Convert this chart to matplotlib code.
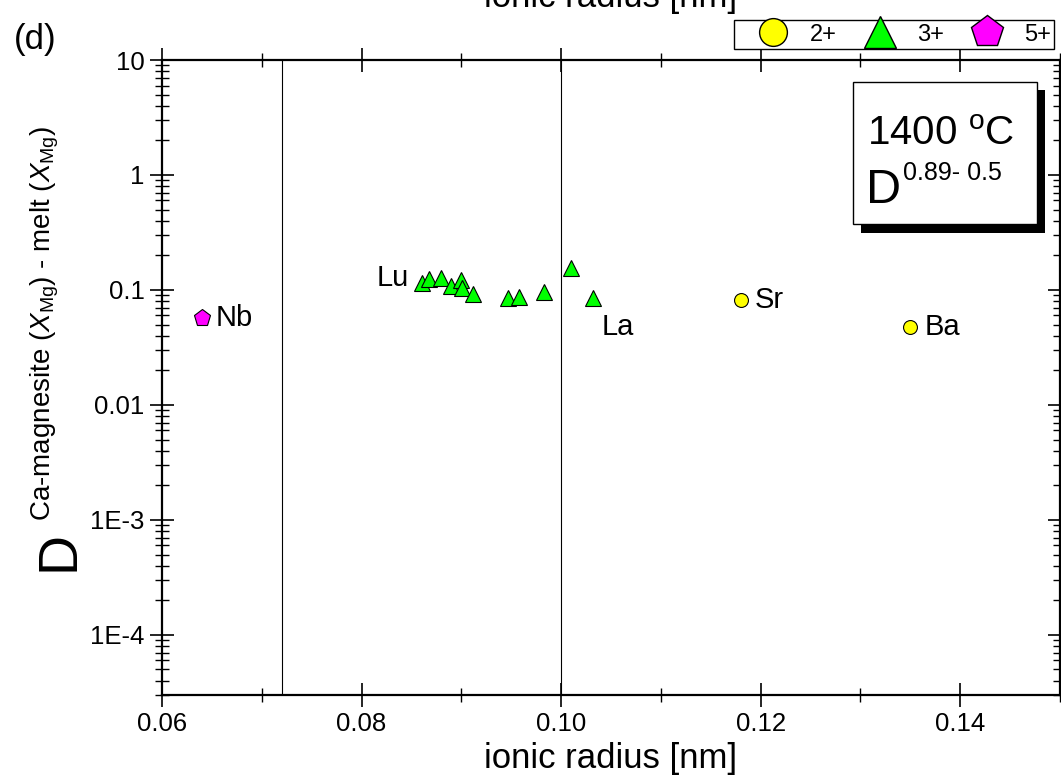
import matplotlib
matplotlib.use('Agg')
import matplotlib.pyplot as plt
from matplotlib.lines import Line2D
from matplotlib.patches import Rectangle
from matplotlib import font_manager

# ---------------- data ----------------
ree_elements = ['Lu', 'Yb', 'Tm', 'Er', 'Y', 'Ho', 'Dy', 'Eu', 'Sm', 'Nd', 'Ce', 'La']
ree_radius = [0.0861, 0.0868, 0.0880, 0.0890, 0.0900, 0.0901, 0.0912,
              0.0947, 0.0958, 0.0983, 0.1010, 0.1032]
ree_D = [0.116, 0.125, 0.127, 0.109, 0.121, 0.1035, 0.093,
         0.0847, 0.087, 0.0966, 0.1545, 0.0844]

div_elements = ['Sr', 'Ba']
div_radius = [0.118, 0.135]
div_D = [0.0818, 0.0477]

pent_elements = ['Nb']
pent_radius = [0.064]
pent_D = [0.057]

ref_lines = [0.072, 0.100]

xtick_vals = [0.06, 0.08, 0.10, 0.12, 0.14]
xtick_labels = ['0.06', '0.08', '0.10', '0.12', '0.14']
xminor_vals = [0.07, 0.09, 0.11, 0.13, 0.15]
ytick_vals = [1e-4, 1e-3, 1e-2, 1e-1, 1, 10]
ytick_labels = ['1E-4', '1E-3', '0.01', '0.1', '1', '10']
legend_labels = ['2+', '3+', '5+']

# ---------------- fonts ----------------
def has_font(name):
    try:
        font_manager.findfont(font_manager.FontProperties(family=name),
                              fallback_to_default=False)
        return True
    except Exception:
        return False

REG = 'Liberation Sans' if has_font('Liberation Sans') else 'DejaVu Sans'

plt.rcParams['font.family'] = [REG, 'DejaVu Sans']
plt.rcParams['mathtext.fontset'] = 'custom'
plt.rcParams['mathtext.rm'] = REG
plt.rcParams['mathtext.it'] = REG + ':italic'
plt.rcParams['mathtext.bf'] = REG + ':bold'

W, H = 1061, 778
fig = plt.figure(figsize=(W / 100, H / 100), dpi=100)

def fx(px):
    return px / W

def fy(py):
    return 1 - py / H

ax_l, ax_r, ax_t, ax_b = 162, 1060, 60, 695
ax = fig.add_axes([fx(ax_l), fy(ax_b), (ax_r - ax_l) / W, (ax_b - ax_t) / H])

# reference lines
for xv in ref_lines:
    ax.axvline(xv, color='black', lw=0.8, zorder=1)

# points
ax.plot(ree_radius, ree_D, ls='none', marker='^', ms=11.5, mfc='#00FF00',
        mec='black', mew=0.8, zorder=3)
ax.plot(div_radius, div_D, ls='none', marker='o', ms=10, mfc='#FFFF00',
        mec='black', mew=0.8, zorder=3)
ax.plot(pent_radius, pent_D, ls='none', marker='p', ms=12.5, mfc='#FF00FF',
        mec='black', mew=0.8, zorder=3)

# point labels
lab_fs = 21
ax.annotate(ree_elements[0], xy=(ree_radius[0], ree_D[0]), xytext=(-9.5, 3),
            textcoords='offset points', ha='right', va='center', fontsize=lab_fs)
ax.annotate(ree_elements[-1], xy=(ree_radius[-1], ree_D[-1]), xytext=(6.5, -20.5),
            textcoords='offset points', ha='left', va='center', fontsize=lab_fs)
for name, r, d in zip(div_elements, div_radius, div_D):
    ax.annotate(name, xy=(r, d), xytext=(10, 0), textcoords='offset points',
                ha='left', va='center', fontsize=lab_fs)
for name, r, d in zip(pent_elements, pent_radius, pent_D):
    ax.annotate(name, xy=(r, d), xytext=(10, 0), textcoords='offset points',
                ha='left', va='center', fontsize=lab_fs)

# axes scales / ticks
ax.set_yscale('log')
ax.set_xlim(0.06, 0.15)
ax.set_ylim(3e-5, 10)
ax.set_xticks(xtick_vals)
ax.set_xticklabels(xtick_labels)
ax.set_xticks(xminor_vals, minor=True)
ax.set_yticks(ytick_vals)
ax.set_yticklabels(ytick_labels)
ax.yaxis.set_minor_locator(matplotlib.ticker.LogLocator(base=10, subs=range(2, 10), numticks=20))
ax.yaxis.set_minor_formatter(matplotlib.ticker.NullFormatter())

ax.tick_params(which='both', direction='inout', top=True, right=True,
               labelsize=18.5, pad=4)
ax.tick_params(which='major', length=17, width=1.2)
ax.tick_params(which='minor', length=9.5, width=1.0)
for sp in ax.spines.values():
    sp.set_linewidth(1.6)

ax.set_xlabel('ionic radius [nm]', fontsize=25)
ax.xaxis.set_label_coords(0.5, -(742 - ax_b) / (ax_b - ax_t))

# y label: big D + superscript
fig.text(fx(60), fy(551), 'D', fontsize=40, rotation=90, ha='center', va='center')
fig.text(fx(45), fy(521),
         r'Ca-magnesite ($X_{\mathrm{Mg}}$) - melt ($X_{\mathrm{Mg}}$)',
         fontsize=20, rotation=90, ha='center', va='bottom')

# cut-off label from panel above
fig.text(fx(611), fy(7), 'ionic radius [nm]', fontsize=25, ha='center', va='baseline')

# panel letter
fig.text(fx(35), fy(40), '(d)', fontsize=25, ha='center', va='center')

# annotation box with shadow
fig.add_artist(Rectangle((fx(861), fy(233)), (1045 - 861) / W, (233 - 90) / H,
                         transform=fig.transFigure, facecolor='black',
                         edgecolor='none', zorder=5))
fig.add_artist(Rectangle((fx(853), fy(224)), (1037 - 853) / W, (224 - 82) / H,
                         transform=fig.transFigure, facecolor='white',
                         edgecolor='black', lw=1.0, zorder=6))
fig.text(fx(867), fy(145), r'1400 $^{\mathrm{o}}$C', fontsize=29,
         ha='left', va='baseline', zorder=7)
fig.text(fx(866), fy(203), 'D', fontsize=35,
         ha='left', va='baseline', zorder=7)
fig.text(fx(903), fy(180), '0.89- 0.5', fontsize=18,
         ha='left', va='baseline', zorder=7)

# legend
handles = [
    Line2D([], [], ls='none', marker='o', ms=20, mfc='#FFFF00', mec='black', mew=1.0),
    Line2D([], [], ls='none', marker='^', ms=23, mfc='#00FF00', mec='black', mew=1.0),
    Line2D([], [], ls='none', marker='p', ms=24, mfc='#FF00FF', mec='black', mew=1.0),
]
leg = fig.legend(handles, legend_labels, loc='upper left',
                 bbox_to_anchor=(fx(734), fy(20)), borderaxespad=0,
                 ncol=3, fontsize=17, frameon=True, fancybox=False,
                 edgecolor='black', framealpha=1, borderpad=0.15,
                 handlelength=3.0, handletextpad=0.07, columnspacing=0.32)
leg.get_frame().set_linewidth(1.0)

fig.savefig('out.png', dpi=100)
